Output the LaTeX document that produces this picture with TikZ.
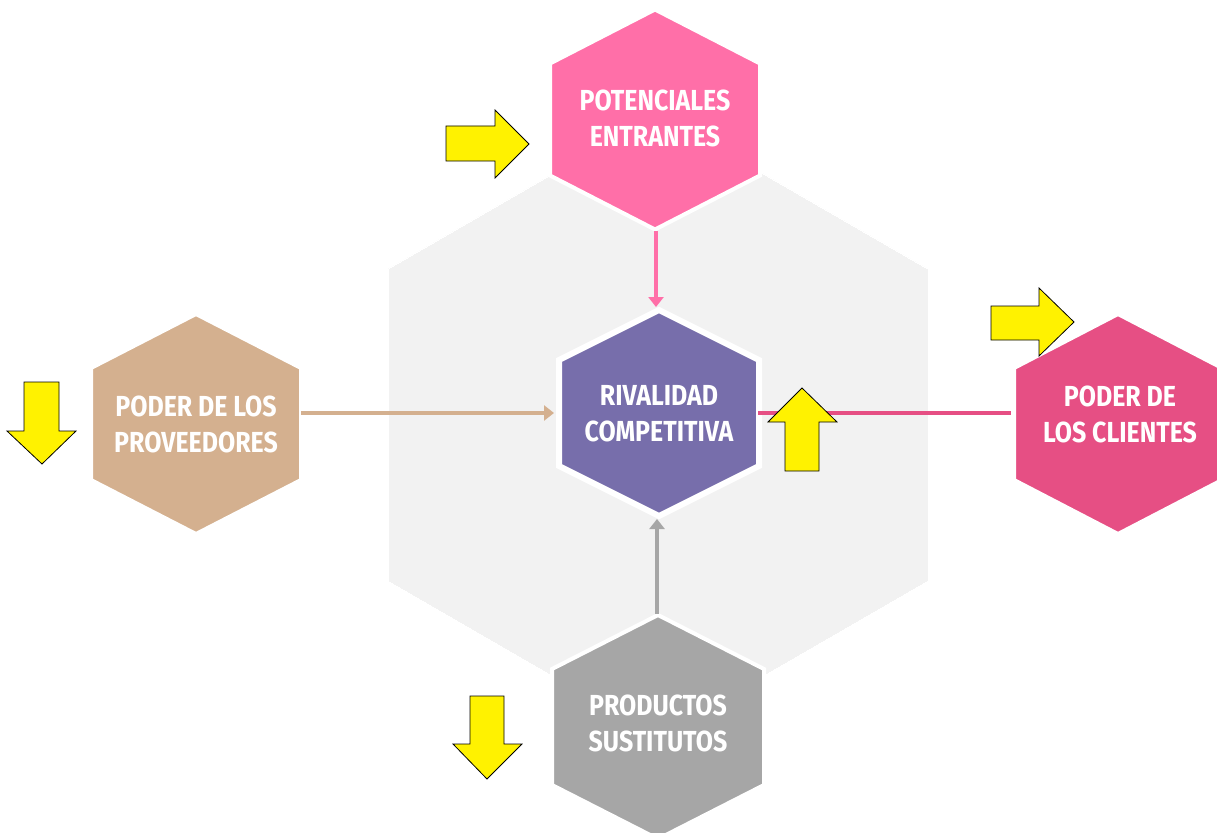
\documentclass[tikz,border=0pt]{standalone}
\usepackage{fontspec}
\newfontfamily\hexfont{Fira Sans}[FakeStretch=0.86]
\usetikzlibrary{arrows.meta}
\definecolor{bggray}{HTML}{F2F2F2}
\definecolor{entpink}{HTML}{FF6FA8}
\definecolor{rivpurple}{HTML}{776EAB}
\definecolor{clipink}{HTML}{E64F84}
\definecolor{protan}{HTML}{D4B08F}
\definecolor{susgray}{HTML}{A6A6A6}
\newcommand{\hexshape}[8]{% name, cx, cy, halfwidth, halfside, tip, fill, border width
  \coordinate (#1-c) at (#2,#3);
  \coordinate (#1-n) at ({#2},{#3-#6});
  \coordinate (#1-s) at ({#2},{#3+#6});
  \coordinate (#1-w) at ({#2-#4},{#3});
  \coordinate (#1-e) at ({#2+#4},{#3});
  \path[fill=#7, draw=white, line width=#8, line join=miter]
    ({#2},{#3-#6}) -- ({#2+#4},{#3-#5}) -- ({#2+#4},{#3+#5}) -- ({#2},{#3+#6})
    -- ({#2-#4},{#3+#5}) -- ({#2-#4},{#3-#5}) -- cycle;
}
\tikzset{
  hextext/.style={text=white, align=center, inner sep=0pt,
    font=\hexfont\bfseries\fontsize{29}{36}\selectfont},
  conn/.style={line width=4.5pt},
  tipa/.style={-{Triangle[length=10pt,width=15pt]}},
  yarrow/.style={fill=yellow, draw=black, line width=0.8pt, line join=miter}
}
\begin{document}
\begin{tikzpicture}[x=1pt,y=-1pt]
\useasboundingbox (0,0) rectangle (1217,832);
\clip (0,0) rectangle (1217,832);
% background hexagon
\hexshape{bg}{658}{425}{270}{156}{312}{bggray}{0pt}
% outer hexagons
\hexshape{pe}{655}{119.5}{105}{56}{110}{entpink}{4pt}
\hexshape{pp}{196}{424}{105}{56}{110}{protan}{4pt}
\hexshape{pc}{1118}{424}{104}{56}{110}{clipink}{4pt}
\hexshape{ps}{658}{727}{106}{58}{112}{susgray}{4pt}
\hexshape{rc}{659}{413}{100}{53}{103}{rivpurple}{6pt}
% connectors
\coordinate (peout) at (656,231);
\coordinate (psout) at (657,614);
\draw[conn, entpink, tipa, shorten >=3pt] (peout) -- (peout |- rc-n);
\draw[conn, protan, tipa, shorten >=5pt] (rc-c -| pp-e) -- (rc-w);
\draw[conn, clipink, shorten <=-1pt, shorten >=3pt] (rc-e) -- (rc-c -| pc-w);
\draw[conn, susgray, tipa, shorten >=3pt] (psout) -- (psout |- rc-s);
% labels
\node[hextext] (pet) at (655,118) {POTENCIALES\\ENTRANTES};
\node[hextext] (ppt) at (pp-c) {PODER DE LOS\\PROVEEDORES};
\node[hextext] (pct) at (1120,414) {PODER DE\\LOS CLIENTES};
\node[hextext] (pst) at (658,723) {PRODUCTOS\\SUSTITUTOS};
\node[hextext] (rct) at (659,414) {RIVALIDAD\\COMPETITIVA};
% yellow block arrows
\draw[yarrow] (446,126) -- (495,126) -- (495,110) -- (529,144) -- (495,178) -- (495,161) -- (446,161) -- cycle;
\draw[yarrow] (991,306) -- (1039,306) -- (1039,288) -- (1074,322) -- (1039,356) -- (1039,340) -- (991,340) -- cycle;
\draw[yarrow] (785,471) -- (785,422) -- (768,422) -- (802,388) -- (837,422) -- (819,422) -- (819,471) -- cycle;
\draw[yarrow] (24,382) -- (59,382) -- (59,431) -- (76,431) -- (42,464) -- (7,431) -- (24,431) -- cycle;
\draw[yarrow] (470,696) -- (504,696) -- (504,744) -- (522,744) -- (487,779) -- (453,744) -- (470,744) -- cycle;
\end{tikzpicture}
\end{document}
